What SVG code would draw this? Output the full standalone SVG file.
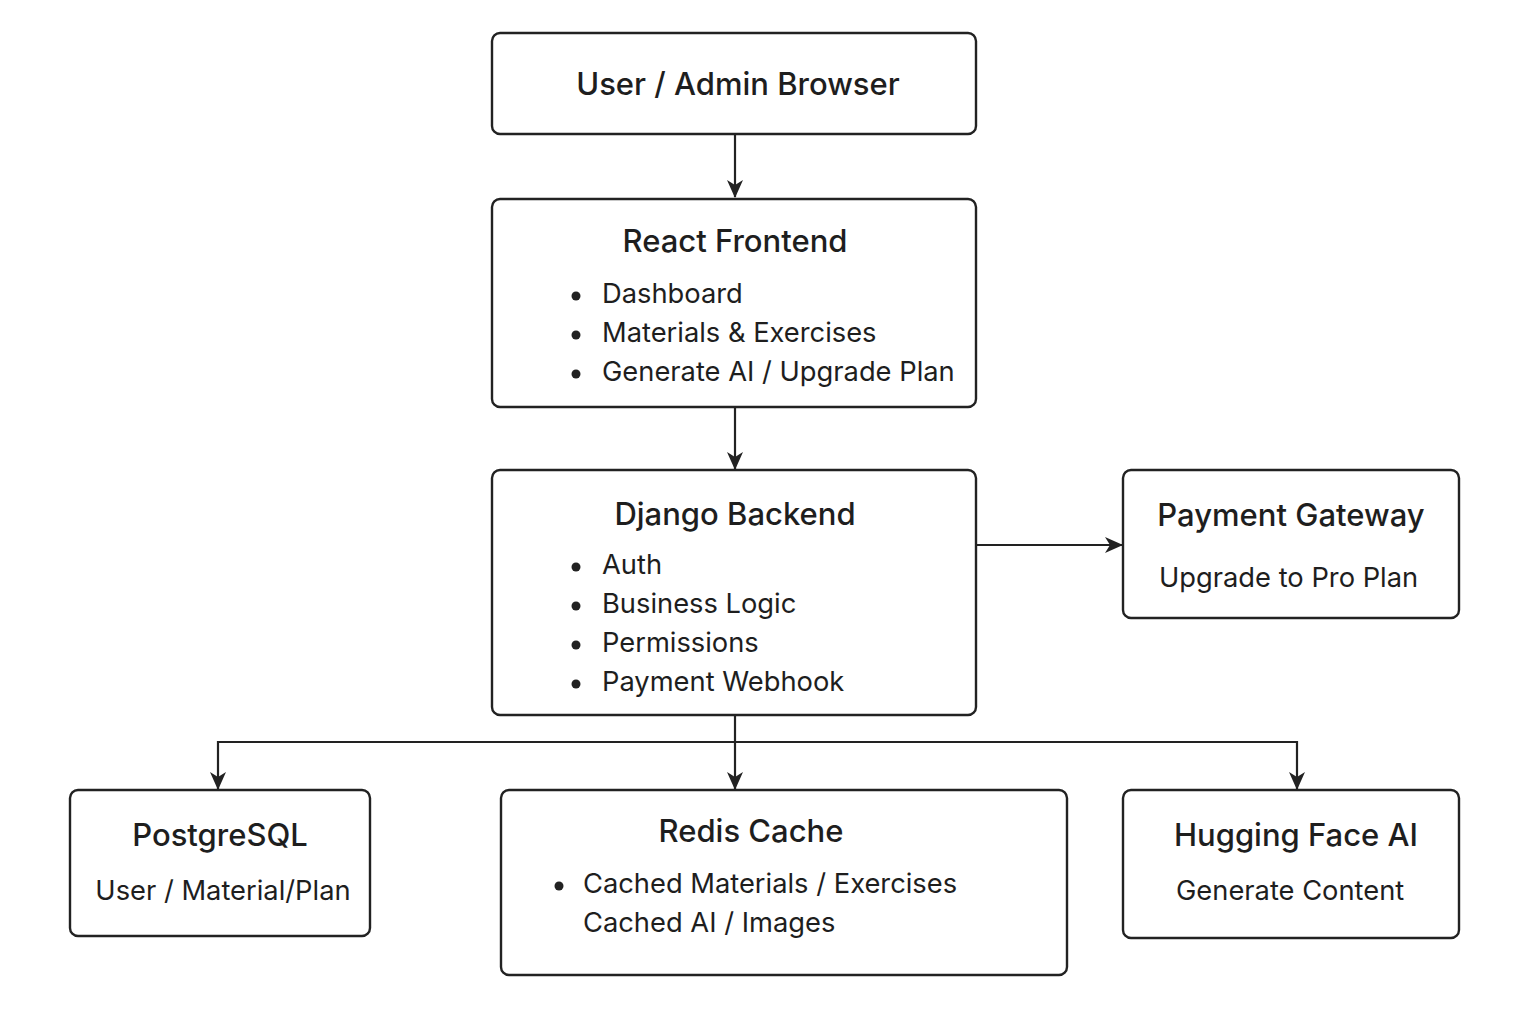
<svg xmlns="http://www.w3.org/2000/svg" width="1536" height="1024" viewBox="0 0 1536 1024">
<style>
.box{fill:#fff;stroke:#222;stroke-width:2.4}
.t{font-family:Inter,"Liberation Sans",Arial,sans-serif;font-size:31px;font-weight:500;fill:#1e1e1e;text-anchor:middle}
.b{font-family:Inter,"Liberation Sans",Arial,sans-serif;font-size:27.3px;fill:#1e1e1e}
.dot{fill:#222}
.c{fill:none;stroke:#222;stroke-width:2.2}
</style>
<defs>
<marker id="ah" viewBox="0 0 18 16" refX="17" refY="8" markerWidth="18" markerHeight="16" markerUnits="userSpaceOnUse" orient="auto">
<path d="M0,0 L18,8 L0,16 L5,8 Z" fill="#222"/>
</marker>
</defs>
<rect width="1536" height="1024" fill="#fff"/>
<g id="connectors">
<line class="c" x1="735" y1="135" x2="735" y2="197" marker-end="url(#ah)"/>
<line class="c" x1="735" y1="408" x2="735" y2="469" marker-end="url(#ah)"/>
<line class="c" x1="977" y1="545" x2="1122" y2="545" marker-end="url(#ah)"/>
<line class="c" x1="735" y1="716" x2="735" y2="789" marker-end="url(#ah)"/>
<path class="c" d="M735,742 L218,742 L218,789" marker-end="url(#ah)"/>
<path class="c" d="M735,742 L1297,742 L1297,789" marker-end="url(#ah)"/>
</g>
<g id="browser">
<rect class="box" x="492" y="33" width="484" height="101" rx="8"/>
<text class="t" x="738" y="95">User / Admin Browser</text>
</g>
<g id="react">
<rect class="box" x="492" y="199" width="484" height="208" rx="8"/>
<text class="t" x="735" y="252">React Frontend</text>
<circle class="dot" cx="576" cy="296" r="4.5"/>
<circle class="dot" cx="576" cy="335" r="4.5"/>
<circle class="dot" cx="576" cy="374" r="4.5"/>
<text class="b" x="602" y="303">Dashboard</text>
<text class="b" x="602" y="342">Materials &amp; Exercises</text>
<text class="b" x="602" y="381">Generate AI / Upgrade Plan</text>
</g>
<g id="django">
<rect class="box" x="492" y="470" width="484" height="245" rx="8"/>
<text class="t" x="735" y="525">Django Backend</text>
<circle class="dot" cx="576" cy="567" r="4.5"/>
<circle class="dot" cx="576" cy="606" r="4.5"/>
<circle class="dot" cx="576" cy="645" r="4.5"/>
<circle class="dot" cx="576" cy="684" r="4.5"/>
<text class="b" x="602" y="574">Auth</text>
<text class="b" x="602" y="613">Business Logic</text>
<text class="b" x="602" y="652">Permissions</text>
<text class="b" x="602" y="691">Payment Webhook</text>
</g>
<g id="payment">
<rect class="box" x="1123" y="470" width="336" height="148" rx="8"/>
<text class="t" x="1291" y="526">Payment Gateway</text>
<text class="b" x="1159" y="587">Upgrade to Pro Plan</text>
</g>
<g id="postgres">
<rect class="box" x="70" y="790" width="300" height="146" rx="8"/>
<text class="t" x="220" y="846">PostgreSQL</text>
<text class="b" x="223" y="900" text-anchor="middle">User / Material/Plan</text>
</g>
<g id="redis">
<rect class="box" x="501" y="790" width="566" height="185" rx="8"/>
<text class="t" x="751" y="842">Redis Cache</text>
<circle class="dot" cx="559" cy="886" r="4.5"/>
<text class="b" x="583" y="893">Cached Materials / Exercises</text>
<text class="b" x="583" y="932">Cached AI / Images</text>
</g>
<g id="hugging">
<rect class="box" x="1123" y="790" width="336" height="148" rx="8"/>
<text class="t" x="1296" y="846">Hugging Face AI</text>
<text class="b" x="1176" y="900">Generate Content</text>
</g>
</svg>
